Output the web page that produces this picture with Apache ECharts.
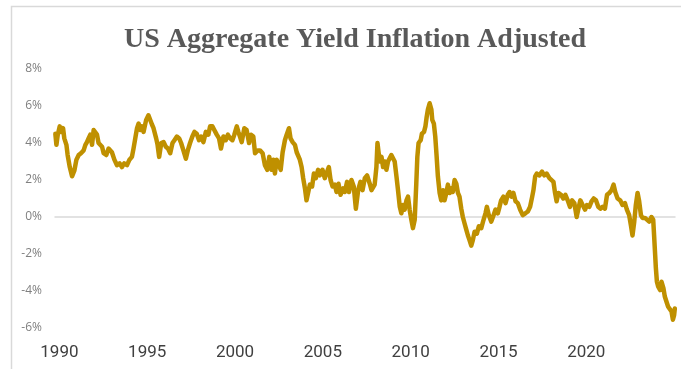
<!DOCTYPE html>
<html>
<head>
<meta charset="utf-8">
<title>US Aggregate Yield Inflation Adjusted</title>
<script src="https://cdn.jsdelivr.net/npm/echarts@6/dist/echarts.min.js"></script>
<style>
  html, body { margin: 0; padding: 0; background: #ffffff; }
  #chart { width: 681px; height: 369px; }
</style>
</head>
<body>
<div id="chart"></div>
<script>
// Real (inflation-adjusted) yield of the US Aggregate bond index, in percent.
// Dates are decimal years as placed on the chart's time axis.
const dates = [
  1989.77, 1989.83, 1989.90, 1990.02, 1990.11, 1990.21, 1990.28, 1990.40, 1990.47, 1990.59,
  1990.72, 1990.85, 1990.97, 1991.10, 1991.23, 1991.38, 1991.48, 1991.57, 1991.66, 1991.76,
  1991.86, 1991.95, 1992.05, 1992.14, 1992.23, 1992.33, 1992.43, 1992.52, 1992.67, 1992.80,
  1992.90, 1992.99, 1993.13, 1993.28, 1993.43, 1993.56, 1993.69, 1993.85, 1993.99, 1994.13,
  1994.22, 1994.32, 1994.42, 1994.51, 1994.60, 1994.70, 1994.79, 1994.94, 1995.07, 1995.17,
  1995.27, 1995.36, 1995.51, 1995.59, 1995.68, 1995.80, 1995.93, 1996.06, 1996.18, 1996.31,
  1996.44, 1996.55, 1996.69, 1996.82, 1996.93, 1997.06, 1997.20, 1997.31, 1997.44, 1997.57,
  1997.69, 1997.82, 1997.95, 1998.07, 1998.20, 1998.34, 1998.48, 1998.58, 1998.71, 1998.82,
  1998.96, 1999.09, 1999.20, 1999.34, 1999.47, 1999.59, 1999.72, 1999.85, 1999.96, 2000.10,
  2000.19, 2000.28, 2000.38, 2000.53, 2000.66, 2000.80, 2000.91, 2001.04, 2001.14, 2001.29,
  2001.42, 2001.57, 2001.70, 2001.84, 2001.95, 2002.09, 2002.18, 2002.27, 2002.37, 2002.46,
  2002.60, 2002.71, 2002.84, 2002.94, 2003.07, 2003.16, 2003.28, 2003.41, 2003.51, 2003.60,
  2003.69, 2003.79, 2003.88, 2003.98, 2004.07, 2004.17, 2004.26, 2004.39, 2004.49, 2004.60,
  2004.73, 2004.83, 2004.98, 2005.11, 2005.21, 2005.34, 2005.44, 2005.55, 2005.68, 2005.78,
  2005.89, 2006.01, 2006.15, 2006.25, 2006.38, 2006.49, 2006.63, 2006.76, 2006.88, 2007.01,
  2007.14, 2007.26, 2007.39, 2007.52, 2007.67, 2007.77, 2007.86, 2007.95, 2008.05, 2008.11,
  2008.18, 2008.24, 2008.34, 2008.43, 2008.52, 2008.62, 2008.71, 2008.81, 2008.90, 2008.99,
  2009.09, 2009.19, 2009.28, 2009.38, 2009.47, 2009.56, 2009.66, 2009.76, 2009.85, 2009.94,
  2010.04, 2010.13, 2010.23, 2010.32, 2010.38, 2010.45, 2010.57, 2010.64, 2010.76, 2010.84,
  2010.91, 2010.98, 2011.08, 2011.18, 2011.23, 2011.32, 2011.40, 2011.48, 2011.55, 2011.65,
  2011.74, 2011.84, 2011.93, 2012.03, 2012.12, 2012.22, 2012.31, 2012.40, 2012.50, 2012.60,
  2012.69, 2012.78, 2012.88, 2012.97, 2013.07, 2013.17, 2013.26, 2013.35, 2013.45, 2013.54,
  2013.64, 2013.77, 2013.88, 2014.02, 2014.15, 2014.26, 2014.34, 2014.45, 2014.59, 2014.72,
  2014.83, 2014.96, 2015.06, 2015.15, 2015.28, 2015.40, 2015.53, 2015.63, 2015.74, 2015.85,
  2015.97, 2016.10, 2016.23, 2016.38, 2016.53, 2016.67, 2016.80, 2016.92, 2016.99, 2017.09,
  2017.18, 2017.33, 2017.48, 2017.61, 2017.74, 2017.90, 2017.99, 2018.13, 2018.22, 2018.31,
  2018.41, 2018.56, 2018.69, 2018.81, 2018.94, 2019.07, 2019.19, 2019.32, 2019.45, 2019.55,
  2019.66, 2019.79, 2019.93, 2020.04, 2020.17, 2020.30, 2020.42, 2020.55, 2020.68, 2020.80,
  2020.93, 2021.06, 2021.18, 2021.31, 2021.44, 2021.55, 2021.65, 2021.78, 2021.93, 2022.06,
  2022.20, 2022.31, 2022.44, 2022.54, 2022.63, 2022.73, 2022.82, 2022.92, 2023.01, 2023.11,
  2023.20, 2023.34, 2023.45, 2023.58, 2023.71, 2023.81, 2023.86, 2023.92, 2023.96, 2024.02,
  2024.09, 2024.20, 2024.28, 2024.39, 2024.47, 2024.59, 2024.66, 2024.77, 2024.85, 2024.93,
  2025.00, 2025.04
];

const realYield = [
  4.5, 3.9, 4.4, 4.9, 4.6, 4.8, 4.25, 3.9, 3.35, 2.7,
  2.2, 2.5, 3.1, 3.35, 3.45, 3.6, 3.9, 4.05, 4.25, 4.45,
  3.9, 4.7, 4.8, 4.45, 4.0, 4.05, 3.8, 3.45, 3.35, 3.7,
  3.8, 3.5, 3.1, 2.8, 2.9, 2.7, 2.9, 2.8, 3.1, 3.25,
  3.7, 4.25, 4.8, 5.05, 4.7, 4.9, 4.6, 5.25, 5.5, 5.4,
  5.0, 4.8, 4.25, 3.9, 3.25, 4.0, 4.05, 3.8, 3.7, 3.45,
  4.0, 4.15, 4.35, 4.25, 4.0, 3.6, 3.15, 3.6, 4.0, 4.35,
  4.6, 4.5, 4.15, 4.35, 4.05, 4.6, 4.45, 4.9, 4.9, 4.7,
  4.45, 4.25, 3.7, 4.35, 4.15, 4.45, 4.25, 4.15, 4.45, 4.9,
  4.6, 4.35, 4.05, 4.8, 4.7, 4.0, 4.45, 4.35, 3.45, 3.6,
  3.6, 3.45, 2.8, 2.55, 3.25, 2.55, 3.1, 2.35, 3.1, 2.9,
  2.55, 3.5, 4.15, 4.45, 4.8, 4.25, 4.05, 3.9, 3.5, 3.45,
  3.1, 2.7, 2.1, 1.55, 0.9, 1.35, 1.75, 1.65, 2.35, 2.1,
  2.55, 2.25, 2.55, 2.1, 2.35, 2.7, 2.0, 1.65, 1.75, 1.35,
  1.8, 1.2, 1.55, 1.35, 1.9, 1.35, 2.0, 1.65, 0.45, 1.45,
  1.9, 1.45, 2.1, 2.25, 1.8, 1.45, 1.45, 1.75, 2.7, 4.0,
  3.45, 3.0, 3.25, 2.7, 3.0, 2.55, 3.0, 3.1, 3.35, 3.45,
  3.0, 2.2, 1.45, 0.55, 0.2, 0.65, 0.4, 0.9, 1.1, 0.4,
  -0.15, -0.6, -0.15, 1.8, 3.25, 4.0, 4.15, 4.5, 4.6, 4.9,
  5.4, 5.8, 6.15, 5.8, 5.25, 5.05, 4.35, 3.25, 2.2, 1.3,
  0.9, 1.45, 0.9, 1.3, 1.75, 1.3, 1.55, 1.35, 2.0, 1.8,
  1.3, 1.1, 0.45, 0.0, -0.35, -0.7, -1.0, -1.25, -1.55, -1.25,
  -0.8, -0.9, -0.5, -0.6, -0.15, 0.2, 0.55, 0.1, -0.25, 0.1,
  0.4, 0.2, 0.55, 0.9, 1.1, 0.75, 1.2, 1.35, 1.1, 1.3,
  0.85, 0.75, 0.4, 0.1, 0.2, 0.3, 0.55, 1.1, 1.45, 2.2,
  2.35, 2.25, 2.45, 2.25, 2.35, 2.1, 2.2, 1.9, 1.3, 0.85,
  1.3, 1.2, 1.0, 1.2, 0.9, 0.55, 0.9, 0.75, 0.0, 0.45,
  0.9, 0.65, 0.4, 0.65, 0.55, 0.85, 1.0, 0.9, 0.55, 0.45,
  0.55, 0.45, 1.2, 1.3, 1.45, 1.75, 1.35, 1.0, 0.9, 0.65,
  0.75, 0.4, 0.1, -0.45, -1.0, -0.25, 0.65, 1.3, 0.85, 0.1,
  -0.05, -0.05, -0.15, -0.25, 0.0, -0.15, -1.0, -2.05, -2.75, -3.5,
  -3.75, -3.95, -3.5, -3.85, -4.3, -4.65, -4.85, -4.95, -5.1, -5.55,
  -5.3, -4.95
];

const yearLabels = [1990, 1995, 2000, 2005, 2010, 2015, 2020];
const yMin = -6, yMax = 8, yStep = 2;

const chart = echarts.init(document.getElementById('chart'), null, { renderer: 'canvas' });

chart.setOption({
  animation: false,
  backgroundColor: '#ffffff',
  title: {
    text: 'US Aggregate Yield Inflation Adjusted',
    left: 119,
    top: 21,
    textStyle: {
      fontFamily: 'Liberation Serif',
      fontWeight: 'bold',
      fontSize: 28,
      color: '#595959'
    }
  },
  graphic: [{
    type: 'rect',
    silent: true,
    shape: { x: 11.5, y: 6.5, width: 720, height: 420 },
    style: { fill: 'none', stroke: '#d9d9d9', lineWidth: 1.5 }
  }],
  grid: { left: 55, right: 6, top: 69, bottom: 41 },
  xAxis: [
    {
      // zero baseline
      type: 'value',
      min: 1989.75,
      max: 2025.05,
      position: 'bottom',
      axisLine: { show: true, onZero: true, lineStyle: { color: '#d9d9d9', width: 1.5 } },
      axisTick: { show: false },
      axisLabel: { show: false },
      splitLine: { show: false }
    },
    {
      // year labels along the bottom
      type: 'value',
      min: 1989.75,
      max: 2025.05,
      position: 'bottom',
      axisLine: { show: false, onZero: false },
      axisTick: { show: false },
      splitLine: { show: false },
      axisLabel: {
        customValues: yearLabels,
        formatter: v => String(v),
        margin: 16,
        fontFamily: 'Roboto',
        fontSize: 17,
        color: '#404040'
      }
    }
  ],
  yAxis: {
    type: 'value',
    min: yMin,
    max: yMax,
    interval: yStep,
    axisLine: { show: false },
    axisTick: { show: false },
    splitLine: { show: false },
    axisLabel: {
      formatter: v => v + '%',
      margin: 13,
      fontFamily: 'Open Sans',
      fontSize: 12,
      color: '#808080'
    }
  },
  series: [{
    type: 'line',
    xAxisIndex: 0,
    data: dates.map((d, i) => [d, realYield[i]]),
    showSymbol: false,
    symbol: 'none',
    clip: true,
    lineStyle: { color: '#BF9000', width: 4.5, join: 'round', cap: 'round' }
  }]
});
</script>
</body>
</html>
